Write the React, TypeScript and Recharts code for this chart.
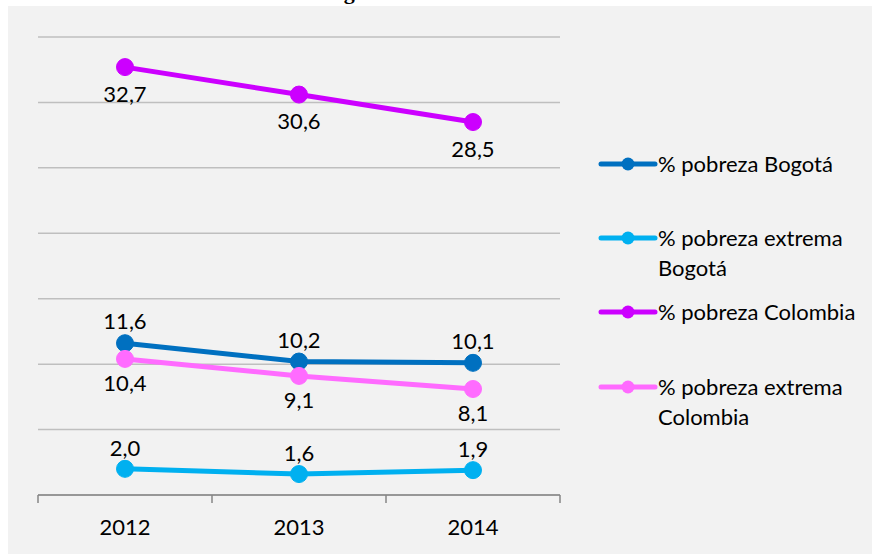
import React from 'react';
import { LineChart, Line, XAxis, YAxis, CartesianGrid, LabelList } from 'recharts';

const years = ['2012', '2013', '2014'];
const pobrezaBogota = [11.6, 10.2, 10.1];
const extremaBogota = [2.0, 1.6, 1.9];
const pobrezaColombia = [32.7, 30.6, 28.5];
const extremaColombia = [10.4, 9.1, 8.1];
const yTicks = [0, 5, 10, 15, 20, 25, 30, 35];

const series = [
  { key: 'pb', name: '% pobreza Bogotá', lines: ['% pobreza Bogotá'], color: '#0070C0', values: pobrezaBogota, pos: 'top', offset: 14 },
  { key: 'eb', name: '% pobreza extrema Bogotá', lines: ['% pobreza extrema', 'Bogotá'], color: '#00B0F0', values: extremaBogota, pos: 'top', offset: 13 },
  { key: 'pc', name: '% pobreza Colombia', lines: ['% pobreza Colombia'], color: '#CC00FF', values: pobrezaColombia, pos: 'bottom', offset: 19 },
  { key: 'ec', name: '% pobreza extrema Colombia', lines: ['% pobreza extrema', 'Colombia'], color: '#FF6BFF', values: extremaColombia, pos: 'bottom', offset: 16 },
];

const data = years.map((year, i) => {
  const row: Record<string, string | number> = { year };
  series.forEach(s => { row[s.key] = s.values[i]; });
  return row;
});

const fmt = (v: number) => v.toFixed(1).replace('.', ',');
const font = 'Lato, "Open Sans", sans-serif';

// rows of the legend (top of each item)
const legendTops = [143, 217, 291, 366];

const App: React.FC = () => {
  return (
    <div>
      <div style={{ position: 'absolute', left: 318, top: -21, fontFamily: 'Liberation Serif, serif', fontWeight: 'bold', fontSize: 22, whiteSpace: 'nowrap' }}>
        Bogotá 2012 - 2014
      </div>
      <div style={{ position: 'absolute', left: 8, top: 6, width: 864, height: 548, background: '#F2F2F2' }}>
        <LineChart width={864} height={548} data={data} margin={{ top: 31, right: 312, left: 30, bottom: 19 }}>
          <CartesianGrid vertical={false} stroke="#BFBFBF" strokeWidth={1.5} />
          <XAxis
            dataKey="year"
            height={40}
            padding={{ left: 87, right: 87 }}
            stroke="#868686"
            strokeWidth={1.5}
            tick={{ fill: '#000', fontSize: 22, fontFamily: font }}
            tickLine={false}
            dy={16}
          />
          <YAxis hide domain={[0, 35]} ticks={yTicks} />
          {series.map(s => (
            <Line
              key={s.key}
              dataKey={s.key}
              name={s.name}
              stroke={s.color}
              strokeWidth={5}
              dot={{ r: 8.5, fill: s.color, stroke: s.color, strokeWidth: 1 }}
              isAnimationActive={false}
            >
              <LabelList
                dataKey={s.key}
                position={s.pos as 'top' | 'bottom'}
                offset={s.offset}
                formatter={(v: number) => fmt(v)}
                style={{ fill: '#000', fontSize: 22, fontFamily: font }}
              />
            </Line>
          ))}
        </LineChart>
        {/* category ticks on the axis */}
        <svg style={{ position: 'absolute', left: 0, top: 0, pointerEvents: 'none' }} width={864} height={548}>
          {[0, 1, 2, 3].map(i => {
            const x = 30 + (522 / 3) * i;
            return <line key={i} x1={x} x2={x} y1={489} y2={497} stroke="#868686" strokeWidth={1.5} />;
          })}
        </svg>
        {series.map((s, i) => (
          <div key={s.key} style={{ position: 'absolute', left: 590, top: legendTops[i], display: 'flex', alignItems: 'flex-start' }}>
            <svg width={60} height={30} style={{ flex: 'none' }}>
              <line x1={3} x2={57} y1={15} y2={15} stroke={s.color} strokeWidth={5} strokeLinecap="round" />
              <circle cx={30} cy={15} r={6.5} fill={s.color} />
            </svg>
            <div style={{ fontFamily: font, fontSize: 22, lineHeight: '29.5px', color: '#000', whiteSpace: 'nowrap' }}>
              {s.lines.map(l => <div key={l}>{l}</div>)}
            </div>
          </div>
        ))}
      </div>
    </div>
  );
};

export default App;
